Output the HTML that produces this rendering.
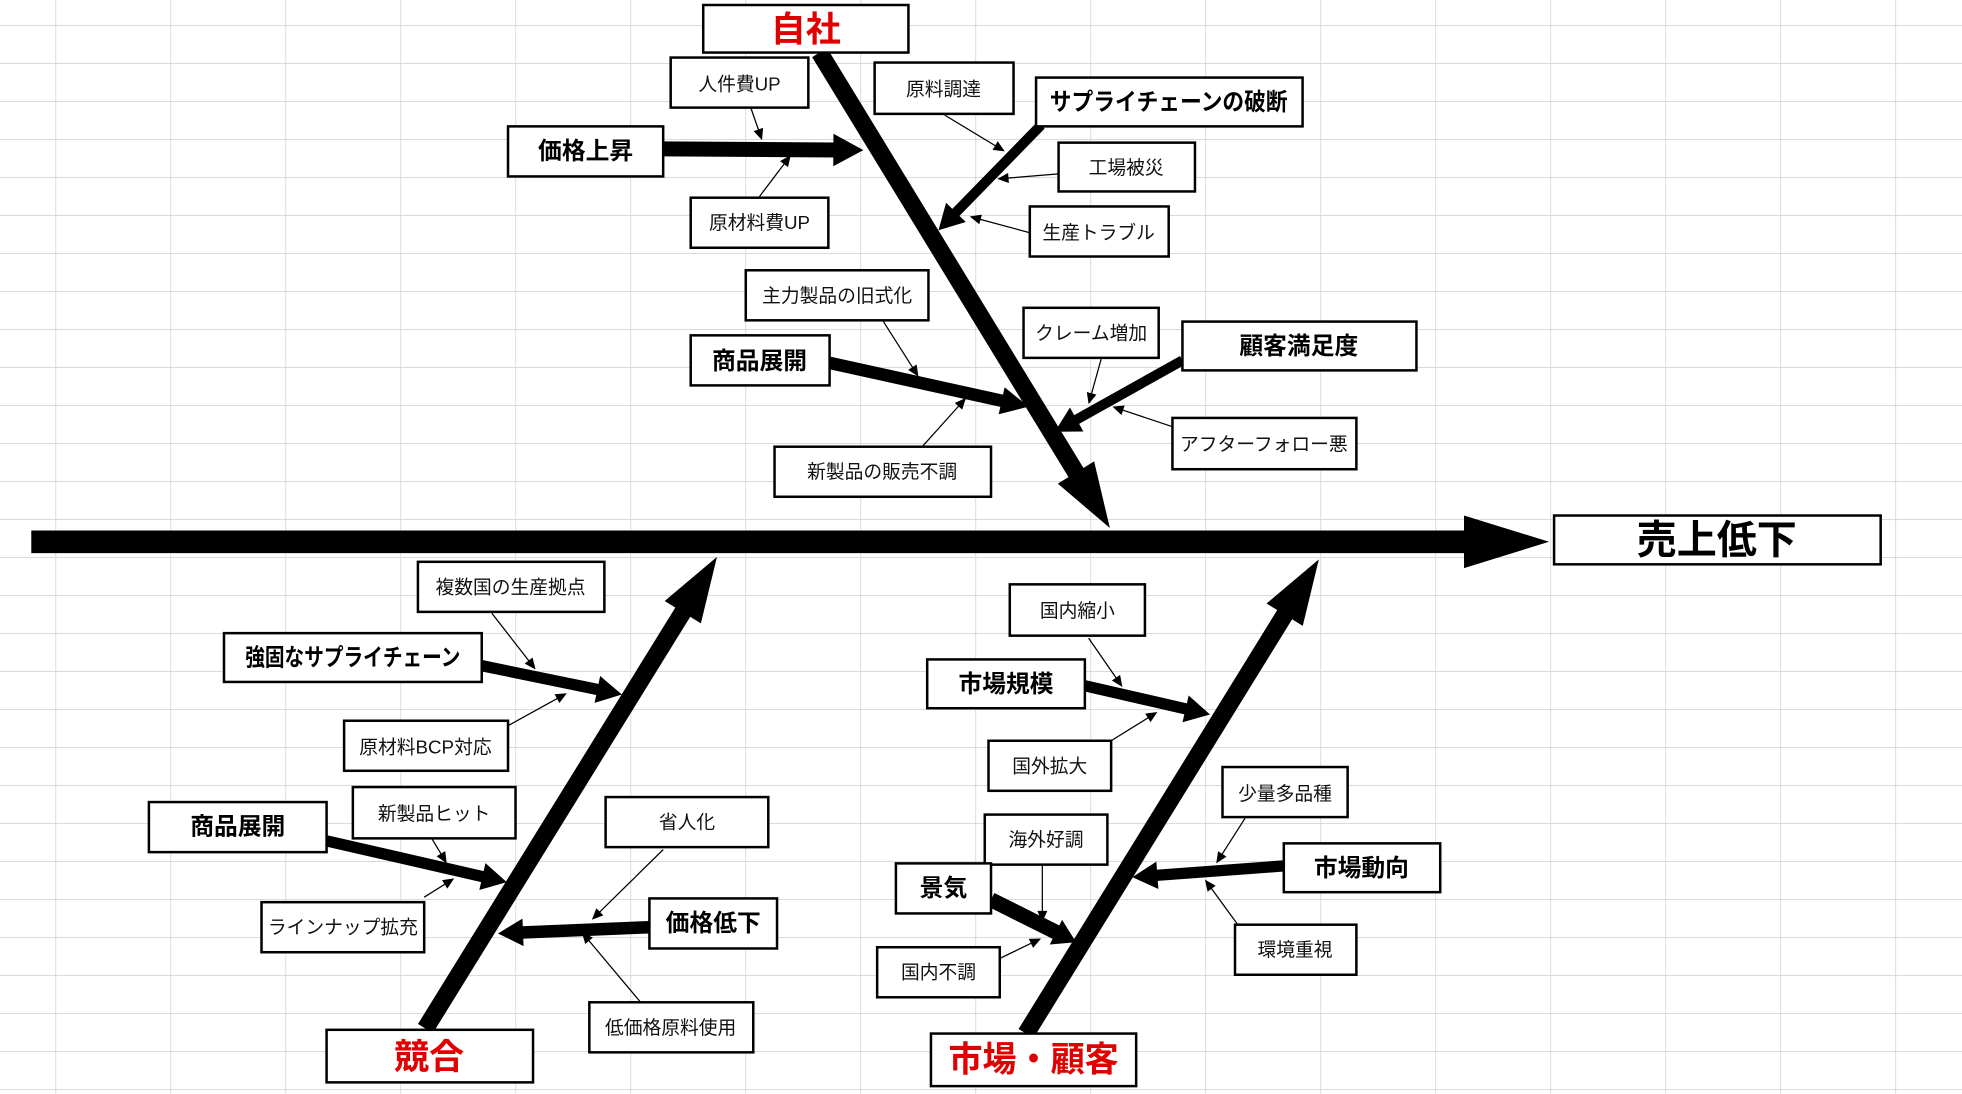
<!DOCTYPE html>
<html><head><meta charset="utf-8">
<style>
html,body{margin:0;padding:0;background:#fff;}
svg{display:block;}
text{font-family:"Liberation Sans","Noto Sans CJK JP",sans-serif;}
.s{font-size:15px;fill:#111;}
.b{font-size:19px;font-weight:bold;fill:#000;}
.r{font-size:28px;font-weight:bold;fill:#e00000;}
</style></head>
<body>
<svg id="sv" width="1962" height="1094" viewBox="0 0 1568 874.3" preserveAspectRatio="none" xmlns="http://www.w3.org/2000/svg">
<defs>
<pattern id="g" x="44.2" y="20" width="91.9" height="30.37" patternUnits="userSpaceOnUse">
<path d="M0 0V30.37M0 0H91.9" stroke="#d4d4d4" stroke-width="1.3" fill="none"/>
</pattern>
</defs>
<rect width="1568" height="874.3" fill="url(#g)"/>
<g id="arrows"></g>
<g id="boxes" fill="#fff" stroke="#000" stroke-width="2">
<rect x="562" y="4" width="164" height="38"/>
<rect x="536" y="46" width="110" height="40"/>
<rect x="699" y="50" width="111" height="41"/>
<rect x="828" y="62" width="213" height="39"/>
<rect x="406" y="101" width="124" height="40"/>
<rect x="846" y="114" width="109" height="39"/>
<rect x="552" y="158" width="110" height="40"/>
<rect x="823" y="165" width="111" height="40"/>
<rect x="596" y="216" width="146" height="40"/>
<rect x="818" y="246" width="108" height="40"/>
<rect x="945" y="257" width="187" height="39"/>
<rect x="552" y="268" width="111" height="40"/>
<rect x="937" y="334" width="147" height="41"/>
<rect x="619" y="357" width="173" height="40"/>
<rect x="1242" y="412" width="261" height="39"/>
<rect x="334" y="449" width="149" height="40"/>
<rect x="179" y="506" width="206" height="39"/>
<rect x="275" y="576" width="131" height="40"/>
<rect x="282" y="629" width="130" height="41"/>
<rect x="119" y="641" width="142" height="40"/>
<rect x="484" y="637" width="130" height="40"/>
<rect x="519" y="718" width="102" height="40"/>
<rect x="209" y="721" width="130" height="40"/>
<rect x="471" y="801" width="131" height="40"/>
<rect x="261" y="823" width="165" height="42"/>
<rect x="807" y="467" width="108" height="41"/>
<rect x="741" y="527" width="126" height="39"/>
<rect x="790" y="592" width="98" height="40"/>
<rect x="977" y="613" width="100" height="40"/>
<rect x="787" y="651" width="98" height="40"/>
<rect x="716" y="690" width="76" height="40"/>
<rect x="1026" y="674" width="125" height="39"/>
<rect x="701" y="757" width="98" height="40"/>
<rect x="987" y="739" width="97" height="40"/>
<rect x="744" y="826" width="164" height="42"/>
</g>
<g text-anchor="middle" dominant-baseline="central">
<text class="r" x="644" y="24">自社</text>
<text class="s" x="591" y="67">人件費UP</text>
<text class="s" x="754" y="71">原料調達</text>
<text class="b" x="934" y="82" textLength="190" lengthAdjust="spacingAndGlyphs">サプライチェーンの破断</text>
<text class="b" x="468" y="121">価格上昇</text>
<text class="s" x="900" y="134">工場被災</text>
<text class="s" x="607" y="178">原材料費UP</text>
<text class="s" x="878" y="186">生産トラブル</text>
<text class="s" x="669" y="236">主力製品の旧式化</text>
<text class="s" x="872" y="266">クレーム増加</text>
<text class="b" x="1038" y="277">顧客満足度</text>
<text class="b" x="607" y="289">商品展開</text>
<text class="s" x="1010" y="355">アフターフォロー悪</text>
<text class="s" x="705" y="377">新製品の販売不調</text>
<text x="1372" y="432" style="font-size:32px;font-weight:bold;fill:#000">売上低下</text>
<text class="s" x="408" y="469">複数国の生産拠点</text>
<text class="b" x="282" y="526" textLength="172" lengthAdjust="spacingAndGlyphs">強固なサプライチェーン</text>
<text class="s" x="340" y="597">原材料BCP対応</text>
<text class="s" x="347" y="650">新製品ヒット</text>
<text class="b" x="190" y="661">商品展開</text>
<text class="s" x="549" y="657">省人化</text>
<text class="b" x="570" y="738">価格低下</text>
<text class="s" x="274" y="741">ラインナップ拡充</text>
<text class="s" x="536" y="821">低価格原料使用</text>
<text class="r" x="343" y="845">競合</text>
<text class="s" x="861" y="488">国内縮小</text>
<text class="b" x="804" y="547">市場規模</text>
<text class="s" x="839" y="612">国外拡大</text>
<text class="s" x="1027" y="634">少量多品種</text>
<text class="s" x="836" y="671">海外好調</text>
<text class="b" x="754" y="710">景気</text>
<text class="b" x="1088" y="694">市場動向</text>
<text class="s" x="750" y="777">国内不調</text>
<text class="s" x="1035" y="759">環境重視</text>
<text class="r" x="826" y="847" textLength="136" lengthAdjust="spacingAndGlyphs">市場・顧客</text>
</g>
</svg>
<script>
(function(){
var NS="http://www.w3.org/2000/svg",g=document.getElementById('arrows');
var A=[
[25,433,1238,433,18,68,42],
[655,42,887,422,14,52,34],
[340,822,573,445,14,52,34],
[820,826,1054,447,14,52,34],
[530,119,690,120,12,24,26],
[832,100,750,184,8,20,22],
[663,290,822,325,10,22,22],
[945,288,843,345,8,20,22],
[385,532,497,555,9,20,22],
[261,672,405,705,9,20,22],
[519,741,398,746,10,20,22],
[867,548,967,571,9,20,22],
[1026,692,905,701,9,20,22],
[792,719,860,753,12,18,22],
[600,86,609,112,1,9,8],[607,157,632,124,1,9,8],
[755,92,803,121,1,9,8],[846,139,797,143,1,9,8],[823,186,775,173,1,9,8],
[706,257,734,301,1,9,8],[737,357,772,318,1,9,8],
[880,287,870,323,1,9,8],[937,341,889,325,1,9,8],
[393,490,428,535,1,9,8],[406,580,453,554,1,9,8],
[345,670,357,690,1,9,8],[339,717,363,702,1,9,8],
[530,679,473,735,1,9,8],[512,801,465,745,1,9,8],
[870,510,897,549,1,9,8],[888,592,925,569,1,9,8],
[995,654,972,690,1,9,8],[990,740,963,703,1,9,8],
[833,691,833,737,1,9,8],[799,766,832,750,1,9,8]
];
A.forEach(function(a){
 var dx=a[2]-a[0],dy=a[3]-a[1],L=Math.sqrt(dx*dx+dy*dy),ux=dx/L,uy=dy/L;
 var bx=a[2]-ux*a[5],by=a[3]-uy*a[5],px=-uy,py=ux,w=a[6]/2;
 var ln=document.createElementNS(NS,'line');
 ln.setAttribute('x1',a[0]);ln.setAttribute('y1',a[1]);
 ln.setAttribute('x2',bx+ux*1);ln.setAttribute('y2',by+uy*1);
 ln.setAttribute('stroke','#000');ln.setAttribute('stroke-width',a[4]);
 g.appendChild(ln);
 var p=document.createElementNS(NS,'polygon');
 p.setAttribute('points',a[2]+','+a[3]+' '+(bx+px*w)+','+(by+py*w)+' '+(bx-px*w)+','+(by-py*w));
 p.setAttribute('fill','#000');
 g.appendChild(p);
});
})();
</script>
</body></html>
